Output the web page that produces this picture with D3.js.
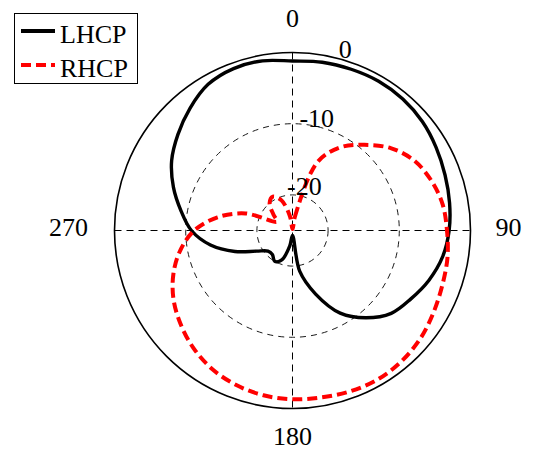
<!DOCTYPE html>
<html>
<head>
<meta charset="utf-8">
<script src="https://cdn.jsdelivr.net/npm/d3@7/dist/d3.min.js"></script>
<style>
  html, body { margin: 0; padding: 0; background: #fff; }
  svg { display: block; }
  text { font-family: "Liberation Serif", "Times New Roman", serif; fill: #000; }
</style>
</head>
<body>
<svg id="chart" width="533" height="455"></svg>
<script>
// ---- data (angle in degrees, clockwise from top; gain in dB) ----
const angles = [0,10,20,30,40,50,60,70,80,90,100,110,120,130,140,150,160,170,
                180,190,200,210,220,230,240,250,260,270,280,290,300,310,320,330,340,350];
const lhcp = [-1.2,-1.0,-0.9,-0.8,-0.9,-1.2,-1.7,-2.2,-2.6,-3.0,-3.6,-4.6,-5.8,-6.9,-9.0,-11.6,-15.5,-19.2,
              -24.3,-22.8,-20.6,-20.0,-20.6,-20.5,-19.2,-16.4,-13.3,-10.8,-9.1,-7.2,-5.4,-4.0,-2.6,-1.3,-0.8,-0.8];
const rhcp = [-24.8,-23.0,-14.8,-11.5,-9.3,-7.0,-5.3,-4.3,-3.6,-3.3,-2.9,-2.6,-2.1,-1.5,-1.1,-0.9,-1.0,-1.2,
              -1.3,-1.5,-1.9,-2.5,-3.4,-4.5,-5.7,-7.2,-9.0,-11.2,-14.3,-18.0,-22.5,-21.5,-20.0,-19.5,-20.5,-23.0];
const seriesNames = ["LHCP", "RHCP"];
const radialTicks = [-20, -10, 0];
const radialTickLabels = ["-20", "-10", "0"];
const angleTicks = [0, 90, 180, 270];
const angleTickLabels = ["0", "90", "180", "270"];
const rDomain = [-25, 0];

// ---- layout ----
const svg = d3.select("#chart");
const cx = 292.5, cy = 230.5, R = 178;
const rScale = d3.scaleLinear().domain(rDomain).range([0, R]).clamp(true);
const g = svg.append("g").attr("transform", `translate(${cx},${cy})`);

// grid: cross lines
g.append("line").attr("x1", -R).attr("x2", R).attr("y1", 0).attr("y2", 0)
  .attr("stroke", "#000").attr("stroke-width", 1).attr("stroke-dasharray", "7,5");
g.append("line").attr("x1", 0).attr("x2", 0).attr("y1", -R).attr("y2", R)
  .attr("stroke", "#000").attr("stroke-width", 1).attr("stroke-dasharray", "7,5");

// grid circles
g.selectAll("circle.grid").data(radialTicks.filter(t => t < rDomain[1])).enter()
  .append("circle").attr("class", "grid")
  .attr("r", d => rScale(d)).attr("fill", "none")
  .attr("stroke", "#000").attr("stroke-width", 0.9).attr("stroke-dasharray", "6,5");

// outer circle
g.append("circle").attr("r", rScale(rDomain[1])).attr("fill", "none")
  .attr("stroke", "#000").attr("stroke-width", 1.6);

// series
const toPts = vals => angles.map((a, i) => ({ a, v: vals[i] }));
const line = d3.lineRadial()
  .angle(d => d.a * Math.PI / 180)
  .radius(d => rScale(d.v))
  .curve(d3.curveCatmullRomClosed.alpha(0.5));

g.append("path").datum(toPts(lhcp)).attr("d", line)
  .attr("fill", "none").attr("stroke", "#000").attr("stroke-width", 3.4)
  .attr("stroke-linejoin", "round");
g.append("path").datum(toPts(rhcp)).attr("d", line)
  .attr("fill", "none").attr("stroke", "#ff0000").attr("stroke-width", 4)
  .attr("stroke-dasharray", "10,5");

// radial tick labels (placed near 15 degrees)
const labAng = 15 * Math.PI / 180;
g.selectAll("text.rt").data(radialTicks).enter().append("text").attr("class", "rt")
  .attr("x", (d, i) => (rScale(d) + 10) * Math.sin(labAng) + [0, -6, 4][i])
  .attr("y", (d, i) => -(rScale(d) + 10) * Math.cos(labAng) + 9)
  .attr("text-anchor", "middle")
  .attr("font-size", 26)
  .text((d, i) => radialTickLabels[i]);

// angle tick labels
const aOff = 26;
g.selectAll("text.at").data(angleTicks).enter().append("text").attr("class", "at")
  .attr("x", d => {
    const s = Math.sin(d * Math.PI / 180);
    return (R + aOff) * s + (d === 270 ? -20 : d === 90 ? 12 : 0);
  })
  .attr("y", d => {
    const c = -Math.cos(d * Math.PI / 180);
    return (R + aOff) * c + (d === 0 ? 0 : d === 180 ? 10 : 5);
  })
  .attr("text-anchor", "middle")
  .attr("font-size", 26)
  .text((d, i) => angleTickLabels[i]);

// legend
const leg = svg.append("g");
leg.append("rect").attr("x", 14.5).attr("y", 13.5).attr("width", 123).attr("height", 70)
  .attr("fill", "#fff").attr("stroke", "#000").attr("stroke-width", 1);
const legStyles = [
  { stroke: "#000", dash: null, w: 4 },
  { stroke: "#ff0000", dash: "10,5", w: 4 }
];
seriesNames.forEach((name, i) => {
  const y = 31 + i * 34;
  leg.append("line").attr("x1", 21).attr("x2", 55).attr("y1", y).attr("y2", y)
    .attr("stroke", legStyles[i].stroke).attr("stroke-width", legStyles[i].w)
    .attr("stroke-dasharray", legStyles[i].dash);
  leg.append("text").attr("x", 60).attr("y", y + 12).attr("font-size", 26).text(name);
});
</script>
</body>
</html>
